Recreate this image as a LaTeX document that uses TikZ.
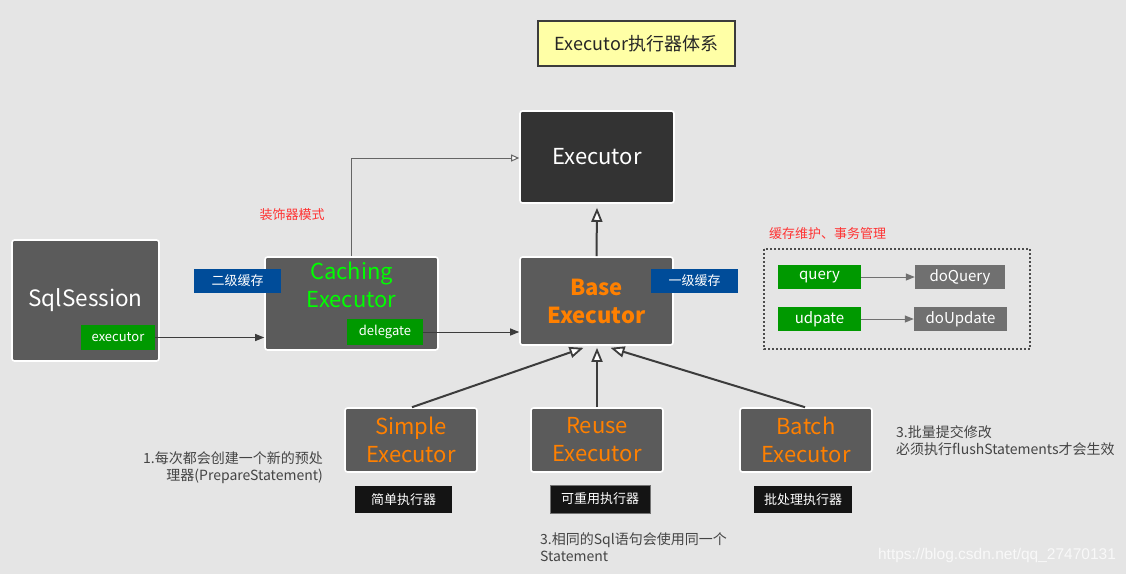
\documentclass[tikz,border=0pt]{standalone}
\usepackage{fontspec}
\setmainfont{Noto Sans CJK SC}
\newfontfamily\wmfont{Liberation Sans}
\usetikzlibrary{arrows.meta,calc}
\definecolor{bg}{HTML}{E5E5E5}
\definecolor{boxgray}{HTML}{5B5B5B}
\definecolor{boxdark}{HTML}{333333}
\definecolor{tagblue}{HTML}{004C99}
\definecolor{taggreen}{HTML}{009900}
\definecolor{opgray}{HTML}{707070}
\definecolor{execorange}{HTML}{FF8000}
\definecolor{cachegreen}{HTML}{00FF00}
\definecolor{notered}{HTML}{FF3333}
\definecolor{notegray}{HTML}{444444}
\definecolor{titlefill}{HTML}{FFFFA6}
\definecolor{linedark}{HTML}{3C3C3C}
\tikzset{
  fs/.style 2 args={font=\fontsize{#1}{#2}\selectfont},
  classbox/.style={draw=white, line width=1.6pt, rounded corners=2.5pt, fill=boxgray, inner sep=0pt},
  tagbox/.style={fill=#1, text=white, inner sep=0pt, fs={13}{16}},
  subname/.style={text=execorange, fs={22}{28}, align=center, inner sep=0pt},
  note/.style={text=notegray, fs={14}{17}, inner sep=0pt},
  rednote/.style={text=notered, fs={13}{16}, inner sep=0pt},
  callarrow/.style={draw=linedark, line width=1pt, -{Triangle[length=9pt,width=7pt]}},
  inherit/.style={draw=linedark, line width=2pt, -{Triangle[open,length=14pt,width=11pt,line width=1.8pt,fill=white]}},
  decor/.style={draw=opgray!90!black, line width=1pt, -{Triangle[open,length=8pt,width=7pt,line width=1pt,fill=white]}},
  opbox/.style={fill=#1, text=white, fs={15}{18}, inner sep=0pt, minimum height=24pt},
  oparrow/.style={draw=opgray, line width=1pt, -{Triangle[length=9pt,width=7pt]}},
}
\begin{document}
\begin{tikzpicture}[x=1pt,y=-1pt]
% canvas
\fill[bg] (0,0) rectangle (1126,574);
\useasboundingbox (0,0) rectangle (1126,574);

% title
\node[draw=linedark, line width=1.2pt, fill=titlefill, minimum width=197pt, minimum height=45pt,
      inner sep=0pt, fs={18}{22}, text=black!85] (title) at (636.5,43.5) {Executor执行器体系};

% the Executor interface
\node[classbox, fill=boxdark, minimum width=154pt, minimum height=92pt, text=white, fs={22}{28}] (executor) at (597,157) {Executor};

% BaseExecutor
\node[classbox, minimum width=153pt, minimum height=88pt] (base) at (596.5,301) {};
\node[subname, font={\fontsize{22}{28}\selectfont\bfseries}] (basetext) at (596.5,301) {Base\\Executor};
\node[tagbox=tagblue, minimum width=87pt, minimum height=24pt] (l1cache) at (694.5,281) {一级缓存};

% CachingExecutor
\node[classbox, minimum width=173pt, minimum height=93pt] (caching) at (351.5,303.5) {};
\node[subname, text=cachegreen] (cachingtext) at (351.5,285) {Caching\\Executor};
\node[tagbox=taggreen, minimum width=76pt, minimum height=26pt] (delegate) at (385,332) {delegate};
\node[tagbox=tagblue, minimum width=87pt, minimum height=24pt] (l2cache) at (237.5,281) {二级缓存};
\node[rednote] (decorator) at (292,215) {装饰器模式};

% SqlSession
\node[classbox, minimum width=147pt, minimum height=121pt] (session) at (85.5,300.5) {};
\node[text=white, fs={22.5}{28}, inner sep=0pt] (sessiontext) at (85.5,300) {SqlSession};
\node[tagbox=taggreen, minimum width=74pt, minimum height=25pt] (execfield) at (118,337.5) {executor};

% concrete executors
\node[classbox, minimum width=132pt, minimum height=64pt] (simple) at (411,440) {};
\node[subname] (simpletext) at (411,440) {Simple\\Executor};
\node[classbox, minimum width=132pt, minimum height=64pt] (reuse) at (597,440) {};
\node[subname] (reusetext) at (597,440) {Reuse\\Executor};
\node[classbox, minimum width=132pt, minimum height=64pt] (batch) at (806,440) {};
\node[subname] (batchtext) at (806,440) {Batch\\Executor};

\node[tagbox=black!92, minimum width=97pt, minimum height=27pt] (simplecn) at (403.5,499.5) {简单执行器};
\node[tagbox=black!92, draw=black!55, line width=1pt, minimum width=100pt, minimum height=28pt] (reusecn) at (600,499) {可重用执行器};
\node[tagbox=black!92, minimum width=98pt, minimum height=27pt] (batchcn) at (803,499.5) {批处理执行器};

% notes
\node[note, align=right, anchor=north east] (simplenote) at (323,451) {1.每次都会创建一个新的预处\\理器(PrepareStatement)};
\node[note, align=left, anchor=north west] (reusenote) at (540,532) {3.相同的Sql语句会使用同一个\\Statement};
\node[note, align=left, anchor=north west] (batchnote) at (896,425) {3.批量提交修改\\必须执行flushStatements才会生效};

% transaction / cache maintenance group
\node[rednote, anchor=west] (groupnote) at (769,234) {缓存维护、事务管理};
\draw[draw=black!70, line width=1.6pt, dash pattern=on 1.6pt off 2.4pt] (764,249) rectangle (1030,349);
\node[opbox=taggreen, minimum width=83pt] (query) at (819.5,277) {query};
\node[opbox=opgray, minimum width=90pt] (doquery) at (960,277) {doQuery};
\node[opbox=taggreen, minimum width=83pt] (update) at (819.5,319) {udpate};
\node[opbox=opgray, minimum width=93pt] (doupdate) at (960.5,319) {doUpdate};
\draw[oparrow] (query) -- (doquery);
\draw[oparrow] (update) -- (doupdate);

% connectors
\draw[callarrow] (execfield.east) -- (execfield.east -| caching.west);
\draw[callarrow] (delegate.east) -- (delegate.east -| base.west);
\draw[decor] (caching.north) |- ($(executor.west)+(0,1)$);
\draw[inherit] (base.north) -- ($(executor.south)+(0,4)$);
\draw[inherit] ($(simple.north)+(1,0)$) -- ($(base.south)+(-13,2)$);
\draw[inherit] (reuse.north) -- ($(base.south)+(0.5,2)$);
\draw[inherit] ($(batch.north)+(-1,0)$) -- ($(base.south)+(14,2)$);

% watermark
\node[text=white, opacity=0.75, inner sep=0pt, font=\wmfont\fontsize{15.5}{18}\selectfont] (watermark) at (997,555) {https://blog.csdn.net/qq\_27470131};
\end{tikzpicture}
\end{document}
